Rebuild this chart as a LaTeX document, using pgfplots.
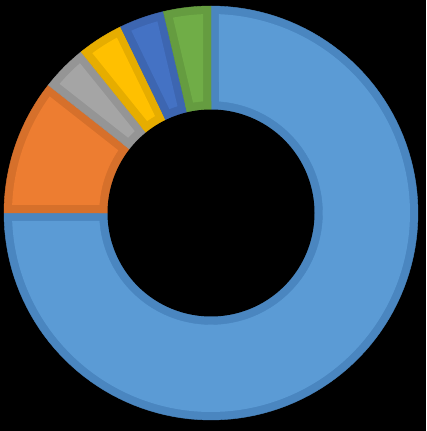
\documentclass[border=0pt]{standalone}
\usepackage{pgfplots}
\pgfplotsset{compat=1.18}
\definecolor{cBlue}{HTML}{5B9BD5}\definecolor{bBlue}{HTML}{4A86C0}
\definecolor{cOrange}{HTML}{ED7D31}\definecolor{bOrange}{HTML}{D6702B}
\definecolor{cGray}{HTML}{A5A5A5}\definecolor{bGray}{HTML}{959595}
\definecolor{cYellow}{HTML}{FFC000}\definecolor{bYellow}{HTML}{E6AD00}
\definecolor{cDBlue}{HTML}{4472C4}\definecolor{bDBlue}{HTML}{3D66B1}
\definecolor{cGreen}{HTML}{70AD47}\definecolor{bGreen}{HTML}{659C40}
\newcommand\Rout{207}
\newcommand\Rin{103.5}
\newcommand\bw{8}
\def\curang{90}
\newcommand\slice[3]{%
  \pgfmathsetmacro\aEnd{\curang}%
  \pgfmathsetmacro\aStart{\curang-3.6*#1}%
  \xdef\curang{\aStart}%
  \pgfmathsetmacro\Ri{\Rout-\bw}%
  \pgfmathsetmacro\dO{asin(\bw/\Ri)}%
  \pgfmathsetmacro\iA{\aStart+\dO}%
  \pgfmathsetmacro\iB{\aEnd-\dO}%
  \pgfmathsetmacro\halfang{(\aEnd-\aStart)/2}%
  \pgfmathsetmacro\midang{(\aEnd+\aStart)/2}%
  \pgfmathsetmacro\dd{\bw/sin(\halfang)}%
  \pgfmathsetmacro\apx{\dd*cos(\midang)}%
  \pgfmathsetmacro\apy{\dd*sin(\midang)}%
  \pgfmathsetmacro\Rb{\Rin+\bw}%
  \edef\doit{%
   \noexpand\addplot[fill=#3, draw=#3, line width=0.4pt, domain=\aStart:\aEnd, samples=120, variable=\noexpand\t] ({\Rout*cos(\noexpand\t)},{\Rout*sin(\noexpand\t)}) -- (axis cs:0,0) -- cycle;
   \noexpand\addplot[fill=#2, draw=none, domain=\iA:\iB, samples=120, variable=\noexpand\t] ({\Ri*cos(\noexpand\t)},{\Ri*sin(\noexpand\t)}) -- (axis cs:\apx,\apy) -- cycle;
   \noexpand\addplot[fill=#3, draw=#3, line width=0.4pt, domain=\aStart:\aEnd, samples=120, variable=\noexpand\t] ({\Rb*cos(\noexpand\t)},{\Rb*sin(\noexpand\t)}) -- (axis cs:0,0) -- cycle;
  }\doit
}
\begin{document}
\begin{tikzpicture}
\begin{axis}[x=1pt, y=1pt, xmin=-211, xmax=215, ymin=-218, ymax=213,
  hide axis, clip=false]
\fill[black] (rel axis cs:0,0) rectangle (rel axis cs:1,1);
\slice{75}{cBlue}{bBlue}
\slice{10.6}{cOrange}{bOrange}
\slice{3.6}{cGray}{bGray}
\slice{3.6}{cYellow}{bYellow}
\slice{3.5}{cDBlue}{bDBlue}
\slice{3.7}{cGreen}{bGreen}
\addplot[fill=black, draw=none, domain=0:360, samples=180] ({\Rin*cos(x)},{\Rin*sin(x)}) -- cycle;
\end{axis}
\end{tikzpicture}
\end{document}
